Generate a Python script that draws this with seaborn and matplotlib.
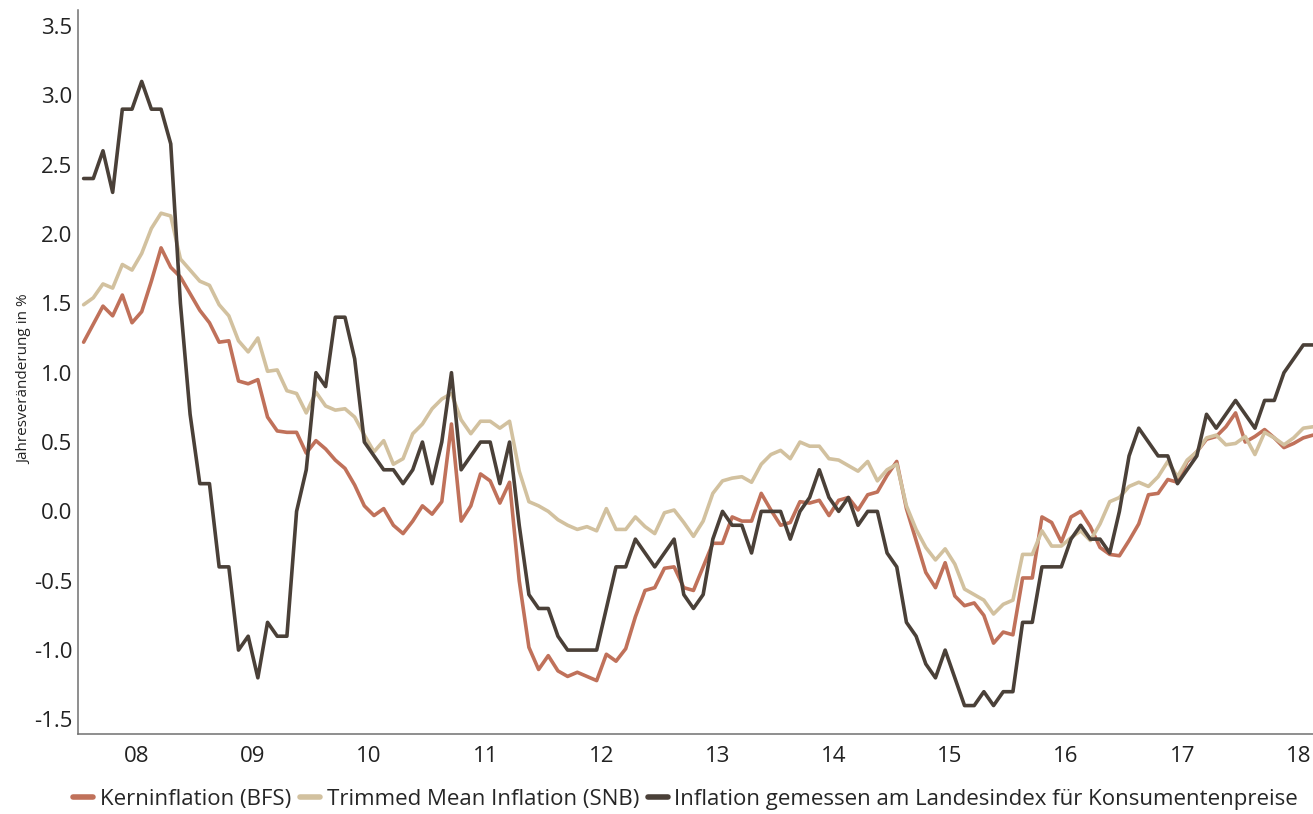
import numpy as np
import pandas as pd
import matplotlib
matplotlib.use("Agg")
import matplotlib.pyplot as plt
import seaborn as sns

# Monthly data, Jan 2008 .. Aug 2018
kern = [1.22, 1.35, 1.48, 1.41, 1.56, 1.36, 1.44, 1.66, 1.90, 1.76, 1.69, 1.57,
        1.45, 1.36, 1.22, 1.23, 0.94, 0.92, 0.95, 0.68, 0.58, 0.57, 0.57, 0.42,
        0.51, 0.45, 0.37, 0.31, 0.19, 0.04, -0.03, 0.02, -0.10, -0.16, -0.07, 0.04,
        -0.02, 0.07, 0.63, -0.07, 0.04, 0.27, 0.22, 0.06, 0.21, -0.50, -0.98, -1.14,
        -1.04, -1.15, -1.19, -1.16, -1.19, -1.22, -1.03, -1.08, -0.99, -0.76, -0.57, -0.55,
        -0.41, -0.40, -0.55, -0.57, -0.40, -0.23, -0.23, -0.04, -0.07, -0.07, 0.13, 0.01,
        -0.10, -0.08, 0.07, 0.06, 0.08, -0.03, 0.08, 0.10, 0.01, 0.12, 0.14, 0.26,
        0.36, 0.02, -0.21, -0.44, -0.55, -0.37, -0.61, -0.68, -0.66, -0.75, -0.95, -0.87,
        -0.89, -0.48, -0.48, -0.04, -0.08, -0.22, -0.04, 0.00, -0.11, -0.26, -0.31, -0.32,
        -0.21, -0.09, 0.12, 0.13, 0.23, 0.21, 0.36, 0.43, 0.52, 0.54, 0.61, 0.71,
        0.50, 0.54, 0.59, 0.53, 0.46, 0.49, 0.53, 0.55]

trimmed = [1.49, 1.54, 1.64, 1.61, 1.78, 1.74, 1.86, 2.04, 2.15, 2.13, 1.82, 1.74,
           1.66, 1.63, 1.49, 1.41, 1.23, 1.15, 1.25, 1.01, 1.02, 0.87, 0.85, 0.71,
           0.86, 0.76, 0.73, 0.74, 0.68, 0.55, 0.43, 0.51, 0.34, 0.38, 0.56, 0.63,
           0.74, 0.81, 0.85, 0.66, 0.56, 0.65, 0.65, 0.60, 0.65, 0.29, 0.07, 0.04,
           0.00, -0.06, -0.10, -0.13, -0.11, -0.14, 0.02, -0.13, -0.13, -0.04, -0.11, -0.16,
           -0.01, 0.01, -0.08, -0.18, -0.07, 0.13, 0.22, 0.24, 0.25, 0.21, 0.34, 0.41,
           0.44, 0.38, 0.50, 0.47, 0.47, 0.38, 0.37, 0.33, 0.29, 0.36, 0.22, 0.30,
           0.34, 0.04, -0.13, -0.26, -0.35, -0.27, -0.38, -0.56, -0.60, -0.64, -0.74, -0.67,
           -0.64, -0.31, -0.31, -0.14, -0.25, -0.25, -0.19, -0.14, -0.21, -0.09, 0.07, 0.10,
           0.18, 0.21, 0.18, 0.25, 0.36, 0.25, 0.37, 0.43, 0.53, 0.55, 0.48, 0.49,
           0.54, 0.41, 0.57, 0.53, 0.48, 0.53, 0.60, 0.61]

cpi = [2.4, 2.4, 2.6, 2.3, 2.9, 2.9, 3.1, 2.9, 2.9, 2.65, 1.5, 0.7,
       0.2, 0.2, -0.4, -0.4, -1.0, -0.9, -1.2, -0.8, -0.9, -0.9, 0.0, 0.3,
       1.0, 0.9, 1.4, 1.4, 1.1, 0.5, 0.4, 0.3, 0.3, 0.2, 0.3, 0.5,
       0.2, 0.5, 1.0, 0.3, 0.4, 0.5, 0.5, 0.2, 0.5, -0.1, -0.6, -0.7,
       -0.7, -0.9, -1.0, -1.0, -1.0, -1.0, -0.7, -0.4, -0.4, -0.2, -0.3, -0.4,
       -0.3, -0.2, -0.6, -0.7, -0.6, -0.2, 0.0, -0.1, -0.1, -0.3, 0.0, 0.0,
       0.0, -0.2, 0.0, 0.1, 0.3, 0.1, 0.0, 0.1, -0.1, 0.0, 0.0, -0.3,
       -0.4, -0.8, -0.9, -1.1, -1.2, -1.0, -1.2, -1.4, -1.4, -1.3, -1.4, -1.3,
       -1.3, -0.8, -0.8, -0.4, -0.4, -0.4, -0.2, -0.1, -0.2, -0.2, -0.3, 0.0,
       0.4, 0.6, 0.5, 0.4, 0.4, 0.2, 0.3, 0.4, 0.7, 0.6, 0.7, 0.8,
       0.7, 0.6, 0.8, 0.8, 1.0, 1.1, 1.2, 1.2]

series_names = ["Kerninflation (BFS)", "Trimmed Mean Inflation (SNB)",
                "Inflation gemessen am Landesindex für Konsumentenpreise"]
year_labels = ["08", "09", "10", "11", "12", "13", "14", "15", "16", "17", "18"]
y_ticks = [-1.5, -1.0, -0.5, 0.0, 0.5, 1.0, 1.5, 2.0, 2.5, 3.0, 3.5]

colors = ["#C0715A", "#D2C19F", "#4A4038"]

months = np.arange(len(cpi))
df = pd.concat([
    pd.DataFrame({"month": months, "value": kern, "series": series_names[0]}),
    pd.DataFrame({"month": months, "value": trimmed, "series": series_names[1]}),
    pd.DataFrame({"month": months, "value": cpi, "series": series_names[2]}),
])

sns.set_style("white")
plt.rcParams["font.family"] = ["Open Sans", "DejaVu Sans"]

fig = plt.figure(figsize=(13.13, 8.14), dpi=100)
ax = fig.add_axes([78 / 1313, 1 - 734 / 814, 1 - 78 / 1313, (734 - 10) / 814])

sns.lineplot(data=df, x="month", y="value", hue="series", hue_order=series_names,
             palette=colors, linewidth=2.6, ax=ax, legend=True)

ax.set_xlim(-0.58, len(cpi) - 1)
ax.set_ylim(-1.605, 3.615)
ax.set_yticks(y_ticks)
ax.set_yticklabels([f"{v:.1f}" for v in y_ticks])
ax.set_xticks([5.5 + 12 * i for i in range(len(year_labels))])
ax.set_xticklabels(year_labels)
ax.tick_params(axis="both", length=0, labelsize=16, colors="#222222")
ax.tick_params(axis="x", pad=9)
ax.tick_params(axis="y", pad=4)

for s in ["top", "right"]:
    ax.spines[s].set_visible(False)
for s in ["left", "bottom"]:
    ax.spines[s].set_color("#707070")
    ax.spines[s].set_linewidth(1.1)

ax.set_xlabel("")
ax.set_ylabel("Jahresveränderung in %", fontsize=11, color="#222222")
ax.yaxis.set_label_coords(-0.037, 0.49)

handles, labels = ax.get_legend_handles_labels()
ax.legend(handles, labels, loc="upper center", bbox_to_anchor=(0.492, -0.063),
          ncol=3, frameon=False, fontsize=16, handlelength=0.9, handletextpad=0.3,
          columnspacing=0.4, borderaxespad=0)
for line in ax.get_legend().get_lines():
    line.set_linewidth(4)

fig.savefig("out.png", dpi=100)
